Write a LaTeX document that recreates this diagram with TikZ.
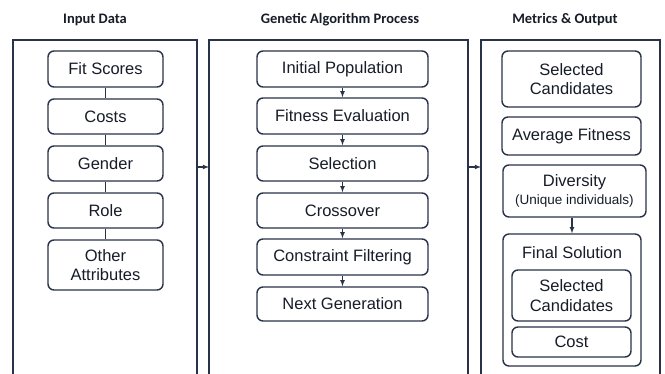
\documentclass[tikz,border=0pt]{standalone}
\usepackage{fontspec}
\setmainfont{Liberation Sans}
\newfontfamily\headfont{Carlito}
\usetikzlibrary{arrows}
\definecolor{navy}{RGB}{40,50,72}
\definecolor{ink}{RGB}{22,28,40}
\tikzset{
  panel/.style={draw=navy,line width=1.4pt},
  box/.style={draw=navy,line width=1.4pt,rounded corners=6pt,align=center,inner sep=0pt,
    text=ink,font=\fontsize{16.5}{19.5}\selectfont},
  head/.style={text=ink,font=\headfont\bfseries\fontsize{14.5}{17}\selectfont},
  link/.style={draw=navy,line width=1.1pt},
  flow/.style={draw=navy,line width=1.1pt,->,>=latex}
}

\begin{document}
\begin{tikzpicture}[x=1pt,y=-1pt]
\clip (0,0) rectangle (665,374);
\fill[white] (0,0) rectangle (665,374);

\node[head] (hin) at (95,20) {Input Data};
\node[head] (hga) at (340,20) {Genetic Algorithm Process};
\node[head] (hout) at (565,20) {Metrics \& Output};

\draw[panel] (13,420) -- (13,40) -- (197,40) -- (197,420);
\draw[panel] (209,420) -- (209,40) -- (468,40) -- (468,420);
\draw[panel] (481,420) -- (481,40) -- (660,40) -- (660,420);
\coordinate (in) at (197,167);
\coordinate (gain) at (209,167);
\coordinate (gaout) at (468,167);
\coordinate (out) at (481,167);
\draw[flow] (in) -- (gain);
\draw[flow] (gaout) -- (out);

% input data
\node[box,minimum width=115pt,minimum height=36pt] (fit) at (105.5,69) {Fit Scores};
\node[box,minimum width=115pt,minimum height=35pt] (costs) at (105.5,116.5) {Costs};
\node[box,minimum width=115pt,minimum height=35pt] (gender) at (105.5,163.5) {Gender};
\node[box,minimum width=115pt,minimum height=35pt] (role) at (105.5,210.5) {Role};
\node[box,minimum width=115pt,minimum height=50pt] (other) at (105.5,265) {Other\\Attributes};
\foreach \a/\b in {fit/costs,costs/gender,gender/role,role/other}
  \draw[link] (\a) -- (\b);

% genetic algorithm
\node[box,minimum width=171pt,minimum height=36pt] (init) at (342.5,69) {Initial Population};
\node[box,minimum width=171pt,minimum height=36pt] (fitness) at (342.5,116) {Fitness Evaluation};
\node[box,minimum width=171pt,minimum height=35pt] (select) at (342.5,163.5) {Selection};
\node[box,minimum width=171pt,minimum height=35pt] (cross) at (342.5,210.5) {Crossover};
\node[box,minimum width=171pt,minimum height=36pt] (constr) at (342.5,257) {Constraint Filtering};
\node[box,minimum width=171pt,minimum height=34pt] (next) at (342.5,304) {Next Generation};
\foreach \a/\b in {init/fitness,fitness/select,select/cross,cross/constr,constr/next}
  \draw[flow] (\a) -- (\b);

% metrics and output
\node[box,minimum width=139pt,minimum height=56pt] (selcand) at (571.5,79) {Selected\\Candidates};
\node[box,minimum width=139pt,minimum height=38pt] (avgfit) at (571.5,136) {Average Fitness};
\node[box,minimum width=143pt,minimum height=52pt] (divers) at (574.5,191)
  {Diversity\\[-1pt]{\fontsize{13.5}{16}\selectfont(Unique individuals)}};
\node[box,minimum width=138pt,minimum height=132pt] (final) at (572,300) {};
\node[text=ink,font=\fontsize{16.5}{19.5}\selectfont] (finaltitle) at (572,253) {Final Solution};
\node[box,minimum width=119pt,minimum height=51pt] (finalcand) at (571.5,295.5) {Selected\\Candidates};
\node[box,minimum width=119pt,minimum height=30pt] (finalcost) at (571.5,342) {Cost};
\draw[flow] (final.north |- divers.south) -- (final.north);
\end{tikzpicture}
\end{document}
